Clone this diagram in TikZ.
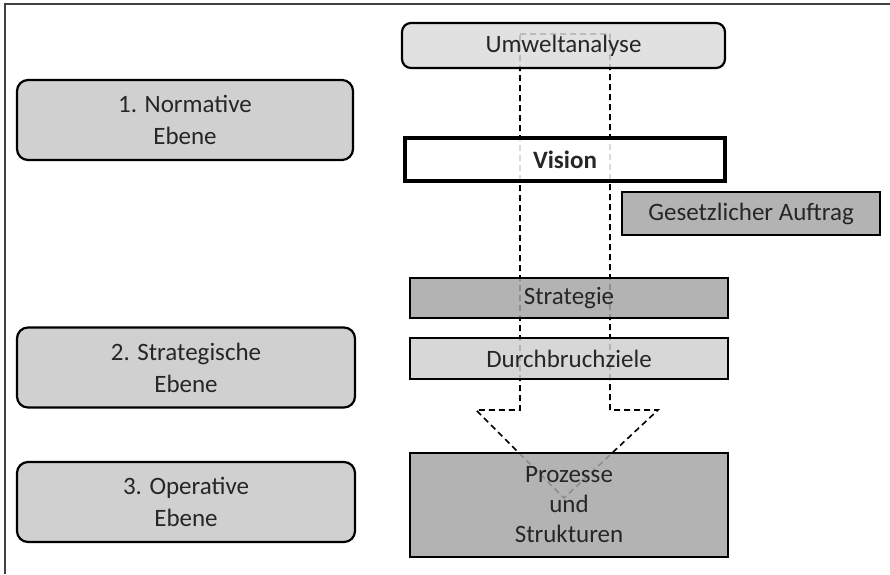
\documentclass[tikz,border=0pt]{standalone}
\usepackage{fontspec}
\setmainfont{Carlito}
\definecolor{lightfill}{HTML}{DCDCDC}
\definecolor{levelfill}{HTML}{C8C8C8}
\definecolor{darkfill}{HTML}{A6A6A6}
\definecolor{paler}{HTML}{D0D0D0}
\definecolor{inktext}{HTML}{262626}

\begin{document}
\begin{tikzpicture}[x=1pt, y=-1pt,
    levelbox/.style={draw, line width=2.2pt, rounded corners=11pt, fill=levelfill,
      fill opacity=0.85, text opacity=1, text=inktext, align=center,
      minimum width=#1, minimum height=80pt, inner sep=0pt,
      font=\fontsize{25}{32}\selectfont},
    stepbox/.style={draw, line width=2.2pt, fill=#1, fill opacity=0.85,
      text opacity=1, text=inktext, align=center, inner sep=0pt,
      font=\fontsize{25}{30}\selectfont}]
  \useasboundingbox (0,0) rectangle (890,574);
  \draw[line width=1.6pt, black!75] (5,574) -- (5,4) -- (890,4);
  % dashed arrow behind the boxes
  \draw[line width=1.6pt, dash pattern=on 6pt off 4pt]
    (520,34) -- (610,34) -- (610,410) -- (658,410) -- (564,498)
    -- (476,410) -- (520,410) -- cycle;
  \node[stepbox=lightfill, rounded corners=9pt, minimum width=323pt, minimum height=45pt]
    (umwelt) at (563.5,45.5) {Umweltanalyse};
  \node[levelbox=336pt] (normativ) at (185,120) {1. Normative\\Ebene};
  \node[stepbox=white, line width=3.4pt, minimum width=320pt, minimum height=43pt]
    (vision) at (565,159.5) {\textbf{Vision}};
  \node[stepbox=darkfill, line width=2pt, minimum width=258pt, minimum height=43pt]
    (auftrag) at (751,213.5) {Gesetzlicher Auftrag};
  \node[stepbox=darkfill, minimum width=318pt, minimum height=40pt]
    (strategie) at (569,298) {Strategie};
  \node[stepbox=paler, minimum width=318pt, minimum height=41pt]
    (ziele) at (569,358.5) {Durchbruchziele};
  \node[levelbox=338pt] (strategisch) at (186,367.5) {2. Strategische\\Ebene};
  \node[levelbox=338pt] (operativ) at (186,502) {3. Operative\\Ebene};
  \node[stepbox=darkfill, minimum width=318pt, minimum height=104pt]
    (prozesse) at (569,505) {Prozesse\\und\\Strukturen};
\end{tikzpicture}
\end{document}
